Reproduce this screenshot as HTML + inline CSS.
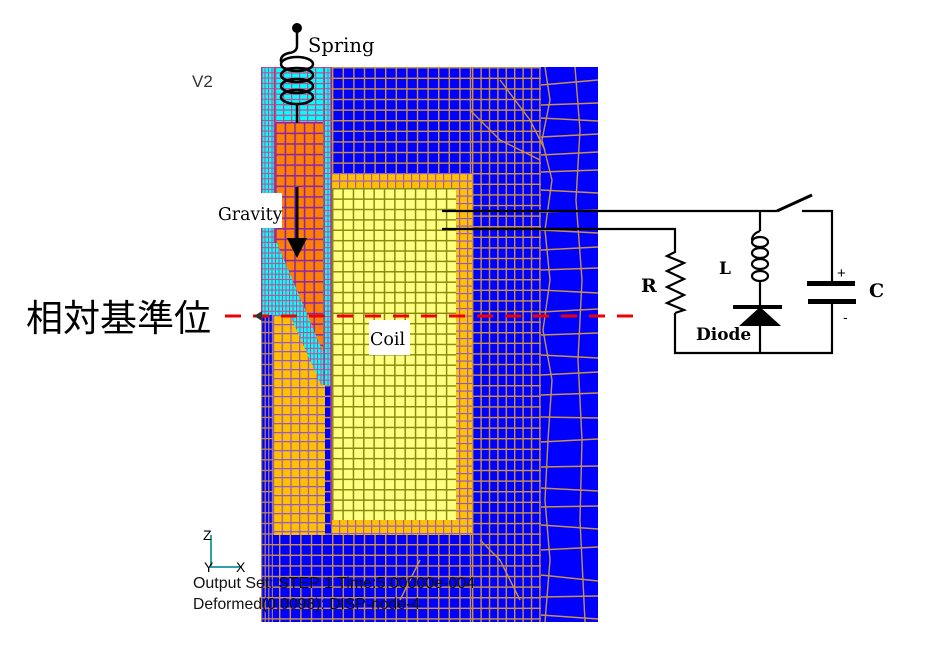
<!DOCTYPE html>
<html><head><meta charset="utf-8"><style>
html,body{margin:0;padding:0;background:#fff;width:935px;height:658px;overflow:hidden}
svg{display:block}
</style></head><body>
<svg width="935" height="658" viewBox="0 0 935 658" xmlns="http://www.w3.org/2000/svg">
<defs>
 <pattern id="pB" patternUnits="userSpaceOnUse" x="332" y="67" width="10.6" height="10.6">
  <rect width="10.6" height="10.6" fill="#0000FF"/>
  <path d="M0 .7H10.6M.7 0V10.6" stroke="#C8904A" stroke-width="1.4"/>
 </pattern>
 <pattern id="pBd" patternUnits="userSpaceOnUse" x="472" y="67" width="8.4" height="10.6">
  <rect width="8.4" height="10.6" fill="#0000FF"/>
  <path d="M0 .7H8.4M.7 0V10.6" stroke="#C8904A" stroke-width="1.4"/>
 </pattern>
 <pattern id="pBs" patternUnits="userSpaceOnUse" x="261" y="67" width="3.6" height="10.6">
  <rect width="3.6" height="10.6" fill="#0000FF"/>
  <path d="M0 .6H3.6M.6 0V10.6" stroke="#C8904A" stroke-width="1.1"/>
 </pattern>
 <pattern id="pOr" patternUnits="userSpaceOnUse" x="275" y="122" width="9.6" height="10.6">
  <rect width="9.6" height="10.6" fill="#FF8000"/>
  <path d="M0 .8H9.6M.8 0V10.6" stroke="#8C28A8" stroke-width="1.6"/>
 </pattern>
 <pattern id="pY" patternUnits="userSpaceOnUse" x="273" y="315" width="8.7" height="9">
  <rect width="8.7" height="9" fill="#FFC000"/>
  <path d="M0 .6H8.7M.6 0V9" stroke="#9558C8" stroke-width="1.2"/>
 </pattern>
 <pattern id="pY2" patternUnits="userSpaceOnUse" x="331" y="173" width="8" height="7.5">
  <rect width="8" height="7.5" fill="#FFC000"/>
  <path d="M0 .6H8M.6 0V7.5" stroke="#9558C8" stroke-width="1.1"/>
 </pattern>
 <pattern id="pC" patternUnits="userSpaceOnUse" x="332" y="188" width="10.35" height="10.38">
  <rect width="10.35" height="10.38" fill="#FFFF80"/>
  <path d="M0 .75H10.35M.75 0V10.38" stroke="#8A8A10" stroke-width="1.5"/>
 </pattern>
 <pattern id="pCy1" patternUnits="userSpaceOnUse" x="261" y="67" width="3.5" height="5.3">
  <rect width="3.5" height="5.3" fill="#00FFFF"/>
  <path d="M0 .5H3.5M.5 0V5.3" stroke="#C8488C" stroke-width="1"/>
 </pattern>
 <pattern id="pCy2" patternUnits="userSpaceOnUse" x="275" y="67" width="8" height="5.3">
  <rect width="8" height="5.3" fill="#00FFFF"/>
  <path d="M0 .6H8M.6 0V5.3" stroke="#C8488C" stroke-width="1.2"/>
 </pattern>
</defs>

<rect width="935" height="658" fill="#fff"/>

<!-- blue mesh base -->
<rect x="261" y="67" width="337" height="555" fill="url(#pB)"/>
<rect x="472" y="67" width="69" height="555" fill="url(#pBd)"/>
<rect x="541" y="67" width="57" height="555" fill="#0000FF"/>
<g stroke="#C8904A" stroke-width="1.4" fill="none">
 <path d="M541 85L598 80M541 105L598 103M541 118L598 121M541 137L598 134M541 155L598 152M541 172L598 170M541 190L598 193M541 212L598 210M541 230L598 233M541 250L598 247M541 270L598 268M541 290L598 293M541 312L598 309M541 335L598 333M541 355L598 358M541 375L598 372M541 395L598 393M541 417L598 418M541 442L598 439M541 467L598 466M541 488L598 491M541 507L598 506M541 525L598 529M541 550L598 547M541 575L598 581M541 597L598 596M541 615L598 619"/>
 <path d="M545 67L550 100L542 140L552 180L545 230L550 280L543 330L552 380L548 440L545 500L550 560L545 622"/>
 <path d="M575 67L580 130L576 200L582 280L578 360L582 440L580 520L585 622"/>
 <path d="M500 80L530 120L545 150M470 110L500 140L540 160M480 540L500 560L520 600M420 560L400 600"/>
</g>
<rect x="261" y="315" width="12" height="307" fill="url(#pBs)"/>

<!-- cyan regions -->
<rect x="261" y="67" width="14" height="248" fill="url(#pCy1)"/>
<rect x="275" y="67" width="48" height="55" fill="url(#pCy2)"/>
<rect x="323" y="67" width="8" height="318" fill="url(#pCy1)"/>
<rect x="273" y="230" width="52" height="155" fill="url(#pCy1)"/>

<!-- orange plunger -->
<polygon points="275,122 323,122 323,352 277,243 275,243" fill="url(#pOr)"/>

<!-- FFC000 left region -->
<polygon points="273,315 290,315 321,385 325,385 325,535 273,535" fill="url(#pY)"/>

<!-- coil border and coil -->
<rect x="331" y="173" width="141" height="362" fill="url(#pY2)"/>
<rect x="332" y="188" width="124" height="332" fill="url(#pC)"/>

<!-- boundary lines -->
<g stroke="#B03880" stroke-width="1.5" fill="none">
 <path d="M261.7 67V315M274.5 67V243M324 67V385M331 67V525"/>
</g>

<!-- label boxes -->
<rect x="200" y="193" width="82" height="35" fill="#fff"/>
<rect x="369" y="320" width="41" height="35" fill="#fff"/>

<!-- spring -->
<g stroke="#000" stroke-width="2.5" fill="none">
 <path d="M297 28V46Q297 52 289 53Q280 55 281 62"/>
 <ellipse cx="297" cy="64" rx="16" ry="7"/>
 <ellipse cx="297" cy="75" rx="16" ry="7"/>
 <ellipse cx="297" cy="86" rx="16" ry="7"/>
 <ellipse cx="297" cy="97" rx="16" ry="7"/>
 <path d="M297 104V123"/>
</g>
<circle cx="297" cy="28" r="5" fill="#000"/>

<!-- gravity arrow -->
<path d="M297 187V240" stroke="#000" stroke-width="3"/>
<polygon points="287,238 307,238 297,258" fill="#000"/>

<!-- red dashed reference line -->
<path d="M225 316H633" stroke="#F00000" stroke-width="3" stroke-dasharray="16 12"/>
<polygon points="254,316 262,311 262,321" fill="#333"/>

<!-- labels -->
<text x="192" y="87" font-family="Liberation Sans, sans-serif" font-size="17" fill="#333">V2</text>
<text x="308" y="52" font-family="DejaVu Serif, serif" font-size="19.5" fill="#000">Spring</text>
<text x="218" y="220" font-family="DejaVu Serif, serif" font-size="17.3" fill="#000">Gravity</text>
<text x="370" y="345" font-family="DejaVu Serif, serif" font-size="17.5" fill="#000">Coil</text>
<text x="26" y="331" font-family="Liberation Sans, Noto Sans CJK JP, sans-serif" font-size="37" fill="#000">相対基準位</text>

<!-- axes -->
<g stroke="#30A0A0" stroke-width="2" fill="none">
 <path d="M211 535V567H242"/>
</g>
<g font-family="Liberation Sans, sans-serif" font-size="14" fill="#000">
 <text x="203" y="540">Z</text>
 <text x="204" y="572">Y</text>
 <text x="236" y="572">X</text>
</g>
<text x="193" y="588" font-family="Liberation Sans, sans-serif" font-size="16" fill="#111" textLength="282" lengthAdjust="spacingAndGlyphs">Output Set: STEP 1 Time:5.00000e-004</text>
<text x="193" y="609" font-family="Liberation Sans, sans-serif" font-size="16" fill="#111" textLength="227" lengthAdjust="spacingAndGlyphs">Deformed(0.0098): DISP-node-4</text>

<!-- circuit -->
<g stroke="#000" stroke-width="2.2" fill="none">
 <path d="M442 211H777"/>
 <path d="M777 211L812 195" stroke-width="3"/>
 <path d="M802 211H832V283"/>
 <path d="M832 301V353H675V313"/>
 <path d="M442 229H675V252L667 256L684 263L667 271L684 279L667 287L684 295L667 303L684 310L675 313"/>
 <path d="M760 211V231"/>
 <path d="M760 231Q752 234 752 240"/>
 <ellipse cx="760" cy="242" rx="8" ry="5"/>
 <ellipse cx="760" cy="253" rx="8" ry="5"/>
 <ellipse cx="760" cy="264" rx="8" ry="5"/>
 <ellipse cx="760" cy="276" rx="8" ry="5"/>
 <path d="M760 281V307"/>
 <path d="M760 326V353"/>
</g>
<rect x="807" y="281" width="48" height="5" fill="#000"/>
<rect x="808" y="299" width="48" height="5" fill="#000"/>
<rect x="733" y="305" width="49" height="4" fill="#000"/>
<polygon points="760,307 739,326 781,326" fill="#000"/>
<g font-family="DejaVu Serif, serif" font-weight="bold" fill="#000">
 <text x="641" y="292" font-size="19">R</text>
 <text x="719" y="274" font-size="17">L</text>
 <text x="869" y="297" font-size="19">C</text>
 <text x="696" y="340" font-size="17">Diode</text>
</g>
<text x="837" y="278" font-family="Liberation Sans, sans-serif" font-size="15" fill="#000">+</text>
<text x="843" y="322" font-family="Liberation Sans, sans-serif" font-size="14" fill="#000">-</text>
</svg>
</body></html>
